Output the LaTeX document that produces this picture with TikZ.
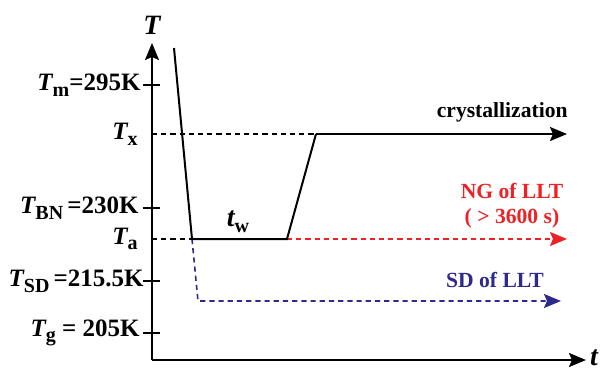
\documentclass[tikz,border=0pt]{standalone}
\usepackage{fontspec}
\setmainfont{Liberation Serif}
\usepackage{xcolor}
\usepackage{tikz}
\usetikzlibrary{arrows.meta,positioning}
\definecolor{llred}{HTML}{EC2227}
\definecolor{llblue}{HTML}{2E2A8C}
\newcommand{\TT}[1]{{\bfseries\itshape T}\raisebox{-0.5ex}{\bfseries\fontsize{10}{10}\selectfont #1}}

\begin{document}
\begin{tikzpicture}[x=0.5pt,y=-0.5pt,
  lbl/.style={font=\bfseries\fontsize{12.5}{14}\selectfont,anchor=east,inner sep=0pt},
  note/.style={font=\bfseries\fontsize{10.8}{12.5}\selectfont,align=center,inner sep=0pt},
  axis/.style={line width=1.1pt},
  path/.style={line width=1pt},
  guide/.style={line width=0.8pt,dash pattern=on 2.6pt off 2pt},
  >={Stealth[length=8.5pt,width=7pt,inset=1.5pt]}]
  \useasboundingbox (0,0) rectangle (607,371);
  % axes
  \coordinate (o) at (152,360);
  \coordinate (ytop) at (152,43);
  \coordinate (xend) at (586,360);
  \draw[axis,->] (o) -- (ytop);
  \draw[axis,->] (o) -- (xend);
  \node[font=\bfseries\itshape\fontsize{14}{16}\selectfont,inner sep=0pt] (tl) at (152,25) {T};
  \node[font=\bfseries\itshape\fontsize{14}{16}\selectfont,inner sep=0pt] (tx) at (594,358) {t};
  % ticks
  \foreach \yy/\nm in {85/m,208/bn,281/sd,333/g}
    \draw[axis] (143,\yy) -- (160,\yy) coordinate (tick\nm);
  \node[lbl] (lm) at (141,85) {\TT{m}=295K};
  \node[lbl] (lx) at (138,134) {\TT{x}};
  \node[lbl] (lbn) at (139,208) {\TT{BN}\,=230K};
  \node[lbl] (la) at (138,239) {\TT{a}};
  \node[lbl] (lsd) at (144,281) {\TT{SD}\,=215.5K};
  \node[lbl] (lg) at (140,333) {\TT{g} = 205K};
  % protocol
  \coordinate (s0) at (174,48);
  \coordinate (a1) at (192,239);
  \coordinate (a2) at (287,239);
  \coordinate (x1) at (316,134);
  \coordinate (x2) at (567,134);
  \coordinate (r2) at (567,239);
  \coordinate (b1) at (198,301);
  \coordinate (b2) at (561,301);
  \draw[guide] (152,134) -- (x1);
  \draw[guide] (152,239) -- (a1);
  \draw[guide,llred,->] (a2) -- (r2);
  \draw[guide,llblue,->] (a1) -- (b1) -- (b2);
  \draw[path] (s0) -- (a1) -- (a2) -- (x1);
  \draw[path,->] (x1) -- (x2);
  \node[font=\bfseries\itshape\fontsize{14}{16}\selectfont,inner sep=0pt] (tw) at (238,222) {t\raisebox{-0.45ex}{\bfseries\upshape\fontsize{10}{11}\selectfont w}};
  \node[note,anchor=east] (cr) at (568,112) {crystallization};
  \node[note,llred] (ng) at (512,206) {NG of LLT\\( > 3600 s)};
  \node[note,llblue] (sd) at (495,280) {SD of LLT};
\end{tikzpicture}
\end{document}
